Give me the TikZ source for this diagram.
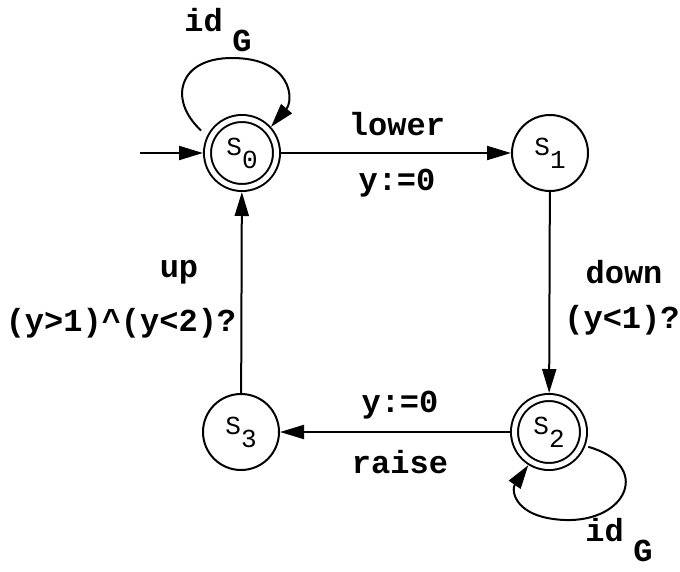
\documentclass[tikz,border=0pt]{standalone}
\usepackage{fontspec}
\setmainfont{Liberation Mono}
\usetikzlibrary{arrows.meta}
\begin{document}
\begin{tikzpicture}[x=1pt,y=-1pt,line width=2pt,
  >={Triangle[length=24pt,width=14pt]},
  state/.style={circle,draw,minimum size=76pt,inner sep=0pt,font=\fontsize{26}{26}\selectfont},
  accept/.style={circle,draw,double,double distance=5pt,minimum size=69pt,outer sep=4.5pt,inner sep=0pt,font=\fontsize{26}{26}\selectfont},
  lbl/.style={inner sep=0pt,font=\fontsize{32}{33}\selectfont\bfseries}]
\useasboundingbox (0,0) rectangle (680,571);
\node[accept] (s0) at (242,153) {S\raisebox{-0.5em}{0}};
\node[state] (s1) at (550,153) {S\raisebox{-0.5em}{1}};
\node[accept] (s2) at (549,432) {S\raisebox{-0.5em}{2}};
\node[state] (s3) at (241,432) {S\raisebox{-0.5em}{3}};
\coordinate (init) at (140,153);
\draw[->] (init) -- (s0);
\draw[->] (s0) -- (s1);
\draw[->] (s1) -- (s2);
\draw[->] (s2) -- (s3);
\draw[->] (s3) -- (s0);
\draw[->,shorten <=8pt] (s0.154) .. controls (168,100) and (178,58) .. (232,58) .. controls (292,58) and (294,100) .. (s0.42);
\draw[->,shorten <=3pt] (s2.-21) .. controls (652,465) and (628,522) .. (565,520) .. controls (514,518) and (511,490) .. (s2.238);
\node[lbl] (llower) at (397,124) {lower};
\node[lbl] (lreset1) at (397,183) {y:=0};
\node[lbl] (ldown) at (624,272) {down};
\node[lbl] (lguard1) at (622,320) {(y<1)?};
\node[lbl] (lreset2) at (400,405) {y:=0};
\node[lbl] (lraise) at (400,462) {raise};
\node[lbl] (lup) at (179,272) {up};
\node[lbl] (lguard2) at (121,323) {(y>1)\textasciicircum(y<2)?};
\node[lbl] (lid0) at (218,30) {id\hspace{0.3em}\raisebox{-0.6em}{G}};
\node[lbl] (lid2) at (619,540) {id\hspace{0.3em}\raisebox{-0.6em}{G}};
\end{tikzpicture}
\end{document}
